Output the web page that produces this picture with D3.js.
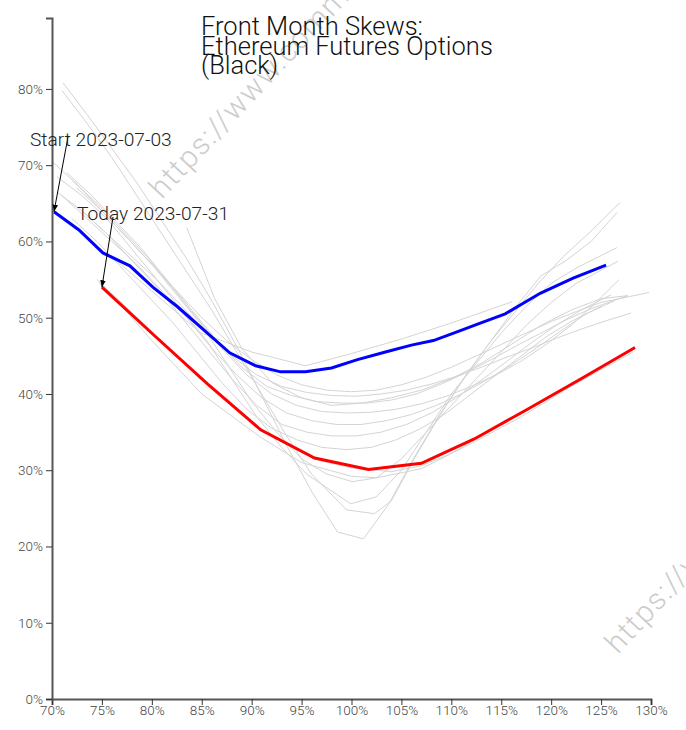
<!DOCTYPE html>
<html>
<head>
<meta charset="utf-8">
<script src="https://cdn.jsdelivr.net/npm/d3@7"></script>
<style>
  html, body { margin: 0; padding: 0; background: #fff; }
  svg { display: block; }
  text { font-family: "Roboto Light", Roboto, "Noto Sans", sans-serif; font-weight: 300; }
</style>
</head>
<body>
<svg id="chart" width="686" height="730"></svg>
<script>
// ---------------- data ----------------
const titleLines = ["Front Month Skews:", "Ethereum Futures Options", "(Black)"];
const xTicks = [70, 75, 80, 85, 90, 95, 100, 105, 110, 115, 120, 125, 130];
const yTicks = [0, 10, 20, 30, 40, 50, 60, 70, 80];
const xDomain = [70, 130];
const yDomain = [0, 89.3];

const startLabel = "Start 2023-07-03";
const todayLabel = "Today 2023-07-31";

// start-of-period curve (blue)
const startMoneyness = [70.2, 72.7, 75.1, 77.8, 80.1, 82.6, 85.2, 87.8, 90.4, 92.9, 95.4, 98.0, 100.6, 103.4, 106.0, 108.2, 110.5, 112.9, 115.4, 118.9, 122.2, 125.5];
const startVol       = [63.9, 61.5, 58.5, 56.8, 54.0, 51.4, 48.4, 45.4, 43.7, 42.9, 42.9, 43.4, 44.5, 45.5, 46.4, 47.0, 48.1, 49.3, 50.5, 53.2, 55.2, 56.9];

// today's curve (red)
const todayMoneyness = [75.0, 80.3, 85.6, 90.9, 96.3, 101.7, 107.0, 112.3, 117.5, 123.0, 128.4];
const todayVol       = [54.0, 47.6, 41.3, 35.3, 31.6, 30.1, 30.9, 34.1, 37.9, 42.0, 46.1];

// intermediate days (grey), [moneyness %, vol %]
const hist01 = [[71.1,80.8],[73.6,76.5],[76.1,72],[78.6,67.5],[81.1,62.5],[83.6,57.5],[86.1,52],[88.6,46],[91.1,39.5],[93.6,33],[96.1,27],[98.6,21.9],[101.2,21.0],[103.7,25.5],[106.2,31.5],[108.7,37],[111.2,42],[113.7,46.5],[116.2,50.5],[118.7,54.5],[121.2,58],[123.7,61],[126.9,65.1]];
const hist02 = [[71.0,79.8],[73.5,75.5],[76,71],[78.5,66],[81,61],[83.5,56],[86,51],[88.5,45.5],[91,40],[93.5,34.5],[96,29.5],[99.5,24.8],[102.3,24.3],[104,26],[106.5,32],[109,37.5],[111.5,42.5],[114,47],[116.5,51.5],[119,55.5],[121.5,57.5],[124,60],[126.6,63.8]];
const hist03 = [[70.5,68.5],[73,66],[75.5,63],[78,59],[80.5,55],[83,51],[85.5,47],[88,42],[90.5,37],[93,33],[95.5,29.5],[99.9,25.6],[102.5,26.5],[105,30],[107.5,35],[110,40],[112.5,44],[115,48],[117.5,51.5],[120,54.5],[122.5,56.5],[126.6,59.2]];
const hist04 = [[72.5,67],[75,64],[77.5,60.5],[80,57],[82.5,53],[85,49],[87.5,44],[90,39],[92.5,35],[95,31.5],[97.5,29.5],[100.1,28.5],[102.5,29],[105,31.5],[107.5,35],[110,38.5],[112.5,42],[115,45.5],[117.5,49],[120,52],[122.5,54.5],[126.7,57.4]];
const hist05 = [[76,58],[80,53.5],[84.8,48.1],[90,45.5],[95.4,43.7],[100,45.3],[105,47.2],[110,49.3],[116.1,52.1]];
const hist06 = [[83.5,61.8],[86.3,52.5],[89,46],[92,41.5],[95,39.5],[98,38.5],[101,38.8],[104,39.5],[107,40.5],[110,42],[113,44],[116,46.5],[119,49],[122,51],[125,52.5],[127.7,52.9]];
const hist07 = [[70,70.5],[72.5,67.5],[75,64],[77.5,60.5],[80,57],[82.5,53.5],[85,50],[87.5,47],[90,44.5],[92.5,42.5],[95,41.2],[97.5,40.5],[100,40.3],[102.5,40.5],[105,41.2],[107.5,42.2],[110,43.5],[112.5,45],[115,46.5],[117.5,48],[120,49.5],[122.5,50.8],[125,52],[129.8,53.3]];
const hist08 = [[70.5,66.5],[73,64],[75.5,61],[78,58],[80.5,55],[83,51.5],[85.5,48],[88,45],[90.5,42.5],[93,41],[95.5,40.2],[98,39.8],[100.5,39.7],[103,40],[105.5,40.5],[108,41.3],[110.5,42.3],[113,43.5],[115.5,44.8],[118,46],[120.5,47.3],[123,48.5],[125.5,49.6],[128,50.6]];
const hist09 = [[71.5,69],[74,66],[76.5,62.5],[79,59],[81.5,55],[84,51],[86.5,47],[89,43.5],[91.5,41],[94,39.8],[96.5,39],[99,38.8],[101.5,38.8],[104,39.2],[106.5,40],[109,41.3],[111.5,42.8],[114,44.5],[116.5,46.3],[119,48],[121.5,49.7],[124,51.2],[127.7,52.9]];
const hist10 = [[72,68],[74.5,65],[77,61.5],[79.5,58],[82,54],[84.5,50],[87,46],[89.5,42.5],[92,40],[94.5,38.5],[97,37.7],[99.5,37.5],[102,37.6],[104.5,38],[107,38.7],[109.5,39.7],[112,41],[114.5,42.5],[117,44.3],[119.5,46.5],[122,49],[124.5,52],[126.8,55]];
const hist11 = [[71,66],[73.5,63],[76,60],[78.5,57],[81,53.5],[83.5,50],[86,46],[88.5,42.5],[91,39.5],[93.5,37.5],[96,36.5],[98.5,36],[101,36],[103.5,36.5],[106,37.3],[108.5,38.5],[111,40],[113.5,41.8],[116,43.8],[118.5,46],[121,48.3],[123.5,50.5],[126.3,52.2]];
const hist12 = [[73,64],[75.5,61],[78,57.5],[80.5,54],[83,50],[85.5,46],[88,42],[90.5,38.5],[93,36],[95.5,35],[98,34.5],[100.5,34.5],[103,35],[105.5,36],[108,37.5],[110.5,39.5],[113,41.8],[115.5,44.2],[118,46.7],[120.5,49],[123,51],[126,53]];
const hist13 = [[72,63],[74.5,60],[77,56.5],[79.5,53],[82,49.5],[84.5,45.5],[87,41.5],[89.5,38],[92,35.5],[94.5,34],[97,33],[99.5,32.7],[102,33],[104.5,34],[107,35.5],[109.5,37.5],[112,40],[114.5,42.5],[117,45],[119.5,47.5],[122,49.5],[125,51.5]];
const hist14 = [[74.7,54.6],[77,51.5],[80,47],[85,40],[90.8,34.4],[95,31],[100,29.2],[102.5,29],[107,30.2],[112,33.5],[117,37],[122,41],[128.2,45.5]];
const hist15 = [[74.5,55],[80,48.2],[85,41.8],[90,36.2],[94,33],[97,31.2],[100,30.3],[104,29.8],[107,30.6],[110,32.2],[113,34.5],[116,37]];
const historyCurves = [hist01, hist02, hist03, hist04, hist05, hist06, hist07, hist08, hist09, hist10, hist11, hist12, hist13, hist14, hist15];

const watermarkText = "https://www.commodityfuturesoptions.com";

// ---------------- chart ----------------
const svg = d3.select("#chart");
const x = d3.scaleLinear().domain(xDomain).range([52, 651]);
const y = d3.scaleLinear().domain(yDomain).range([699, 18]);

const line = d3.line().x(d => x(d[0])).y(d => y(d[1]));

// watermarks
const wm = svg.append("g").attr("class", "watermark");
[[162, 200], [618, 655]].forEach(p => {
  wm.append("text")
    .attr("transform", `translate(${p[0]},${p[1]}) rotate(-47)`)
    .attr("font-size", 30)
    .attr("letter-spacing", 1.5)
    .attr("fill", "#cccccc")
    .text(watermarkText);
});

// grey history lines
svg.append("g")
  .selectAll("path")
  .data(historyCurves)
  .join("path")
  .attr("d", line)
  .attr("fill", "none")
  .attr("stroke", "#d4d4d4")
  .attr("stroke-width", 1);

// start and today curves
const startData = startMoneyness.map((m, i) => [m, startVol[i]]);
const todayData = todayMoneyness.map((m, i) => [m, todayVol[i]]);

svg.append("path").datum(startData).attr("d", line)
  .attr("fill", "none").attr("stroke", "#0000ff").attr("stroke-width", 3);
svg.append("path").datum(todayData).attr("d", line)
  .attr("fill", "none").attr("stroke", "#ff0000").attr("stroke-width", 3);

// axes
const xAxis = svg.append("g").attr("transform", `translate(0,${y(0)})`)
  .call(d3.axisBottom(x).tickValues(xTicks).tickFormat(d => d + "%"));
const yAxis = svg.append("g").attr("transform", `translate(${x(70)},0)`)
  .call(d3.axisLeft(y).tickValues(yTicks).tickFormat(d => d + "%"));
[xAxis, yAxis].forEach(a => {
  a.select(".domain").attr("stroke", "#555").attr("stroke-width", 2);
  a.selectAll(".tick line").attr("stroke", "#333");
  a.selectAll(".tick text").attr("fill", "#444").attr("font-size", 13.5)
    .attr("font-family", "'Roboto Light', Roboto");
});
xAxis.selectAll(".tick text").attr("dy", "0.55em");

// arrow marker
svg.append("defs").append("marker")
  .attr("id", "arrow").attr("viewBox", "0 0 10 10")
  .attr("refX", 10).attr("refY", 5)
  .attr("markerWidth", 7).attr("markerHeight", 7)
  .attr("orient", "auto-start-reverse")
  .append("path").attr("d", "M0,1 L10,5 L0,9 Z").attr("fill", "#000");

// annotations
function annotate(label, tx, ty, ax, ay, pt) {
  svg.append("line")
    .attr("x1", ax).attr("y1", ay)
    .attr("x2", x(pt[0])).attr("y2", y(pt[1]))
    .attr("stroke", "#000").attr("stroke-width", 1)
    .attr("marker-end", "url(#arrow)");
  svg.append("text").attr("x", tx).attr("y", ty)
    .attr("font-size", 19.2).attr("fill", "#222")
    .text(label);
}
annotate(startLabel, 30, 146, 68, 137, startData[0]);
annotate(todayLabel, 77, 220, 113, 217, todayData[0]);

// title
const title = svg.append("text").attr("x", 201).attr("y", 35)
  .attr("font-size", 25.5).attr("fill", "#111");
titleLines.forEach((t, i) => {
  title.append("tspan").attr("x", 201).attr("dy", i === 0 ? 0 : 19.5).text(t);
});
</script>
</body>
</html>
